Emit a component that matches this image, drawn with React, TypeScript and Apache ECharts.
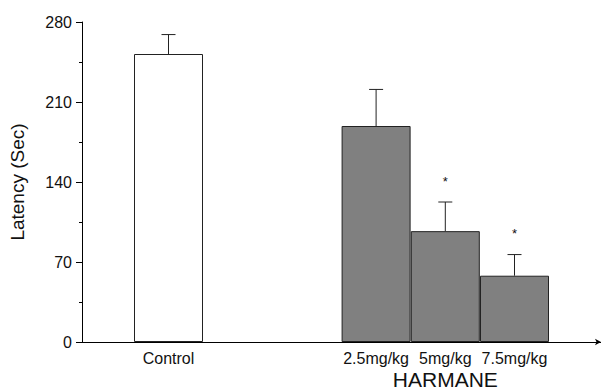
import React, { useEffect, useRef } from "react";
import * as echarts from "echarts";

const categories = ["Control", "2.5mg/kg", "5mg/kg", "7.5mg/kg"];
const positions = [1.25, 4.25, 5.25, 6.25];
const means = [252, 189, 97, 58];
const errors = [17, 32, 25.5, 18.5];
const significant = [false, false, true, true];
const barColors = ["#ffffff", "#808080", "#808080", "#808080"];
const groupLabel = "HARMANE";
const groupPosition = 5.25;
const yTicks = [0, 70, 140, 210, 280];

export default function App() {
  const ref = useRef<HTMLDivElement>(null);
  useEffect(() => {
    if (!ref.current) return;
    const chart = echarts.init(ref.current, undefined, { renderer: "svg" });
    const font = "'Liberation Sans', Arial, Helvetica, sans-serif";
    const labelFor = (v: number) => {
      const i = positions.indexOf(v);
      return i >= 0 ? categories[i] : "";
    };
    chart.setOption({
      animation: false,
      backgroundColor: "#ffffff",
      textStyle: { fontFamily: font },
      grid: { left: 81, right: 0, top: 22, bottom: 48, containLabel: false },
      xAxis: [
        {
          type: "value",
          min: 0,
          max: 7.5,
          axisLine: {
            show: true,
            lineStyle: { color: "#000", width: 1 },
            symbol: ["none", "arrow"],
            symbolSize: [5, 6],
          },
          axisTick: { show: false },
          splitLine: { show: false },
          axisLabel: {
            customValues: positions,
            formatter: (v: number) => labelFor(v),
            fontSize: 16,
            color: "#111",
            margin: 8,
            fontFamily: font,
          },
        },
        {
          type: "value",
          position: "bottom",
          min: 0,
          max: 7.5,
          axisLine: { show: false },
          axisTick: { show: false },
          splitLine: { show: false },
          axisLabel: {
            customValues: [groupPosition],
            formatter: () => groupLabel,
            fontSize: 21,
            color: "#111",
            margin: 27,
            fontFamily: font,
          },
        },
      ],
      yAxis: {
        type: "value",
        min: yTicks[0],
        max: yTicks[yTicks.length - 1],
        interval: 70,
        name: "Latency (Sec)",
        nameLocation: "middle",
        nameGap: 55,
        nameTextStyle: { fontSize: 19, color: "#111", fontFamily: font },
        axisLine: { show: true, lineStyle: { color: "#000", width: 1 } },
        axisTick: { show: true, length: 6, lineStyle: { color: "#000" } },
        minorTick: { show: true, splitNumber: 2, length: 3, lineStyle: { color: "#000" } },
        splitLine: { show: false },
        axisLabel: { fontSize: 16, color: "#111", margin: 10, fontFamily: font },
      },
      series: [
        {
          type: "bar",
          xAxisIndex: 0,
          barWidth: 69,
          data: positions.map((p, i) => ({
            value: [p, means[i]],
            itemStyle: { color: barColors[i], borderColor: "#222", borderWidth: 1 },
          })),
          z: 2,
        },
        {
          type: "custom",
          xAxisIndex: 0,
          data: positions.map((p, i) => [p, means[i], means[i] + errors[i], significant[i] ? 1 : 0]),
          renderItem: (params: any, api: any) => {
            const x = api.value(0);
            const base = api.coord([x, api.value(1)]);
            const top = api.coord([x, api.value(2)]);
            const cap = 7;
            const children: any[] = [
              {
                type: "line",
                shape: { x1: base[0], y1: base[1], x2: top[0], y2: top[1] },
                style: { stroke: "#222", lineWidth: 1 },
              },
              {
                type: "line",
                shape: { x1: top[0] - cap, y1: top[1], x2: top[0] + cap, y2: top[1] },
                style: { stroke: "#222", lineWidth: 1 },
              },
            ];
            if (api.value(3) === 1) {
              children.push({
                type: "text",
                x: top[0],
                y: top[1] - 21,
                style: {
                  text: "*",
                  fontSize: 13,
                  fontFamily: font,
                  fill: "#111",
                  align: "center",
                  verticalAlign: "middle",
                },
              });
            }
            return { type: "group", children };
          },
          z: 3,
        },
      ],
    });
    return () => chart.dispose();
  }, []);
  return <div ref={ref} style={{ width: 601, height: 390, position: "absolute", left: 0, top: 0 }} />;
}
